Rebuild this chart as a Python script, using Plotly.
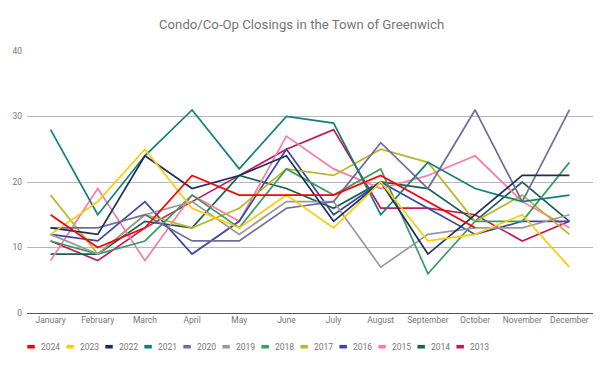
import plotly.graph_objects as go

months = ["January", "February", "March", "April", "May", "June", "July",
          "August", "September", "October", "November", "December"]

y2024 = [15, 10, 13, 21, 18, 18, 18, 21, 17, 13, None, None]
y2023 = [12, 17, 25, 16, 13, 18, 13, 20, 11, 12, 15, 7]
y2022 = [13, 12, 24, 19, 21, 24, 14, 20, 9, 15, 21, 21]
y2021 = [28, 15, 24, 31, 22, 30, 29, 15, 23, 19, 17, 18]
y2020 = [13, 13, 15, 11, 11, 16, 17, 26, 19, 31, 17, 31]
y2019 = [12, 9, 15, 17, 12, 17, 17, 7, 12, 13, 13, 15]
y2018 = [11, 9, 11, 18, 13, 22, 18, 22, 6, 14, 14, 23]
y2017 = [18, 9, 15, 13, 16, 22, 21, 25, 23, 14, 18, 12]
y2016 = [12, 11, 17, 9, 14, 25, 15, 20, 16, 12, 14, 14]
y2015 = [8, 19, 8, 18, 14, 27, 22, 19, 21, 24, 17, 13]
y2014 = [9, 9, 14, 13, 21, 19, 16, 20, 19, 14, 20, 14]
y2013 = [11, 8, 13, 17, 21, 25, 28, 16, 16, 15, 11, 14]

years = ["2024", "2023", "2022", "2021", "2020", "2019", "2018", "2017",
         "2016", "2015", "2014", "2013"]
series = [y2024, y2023, y2022, y2021, y2020, y2019, y2018, y2017,
          y2016, y2015, y2014, y2013]
colors = ["#ff0000", "#ffcb05", "#1b2e5c", "#12807a", "#6e6c9e", "#999999",
          "#3c9a60", "#b8b72c", "#3a47a6", "#fd78a6", "#17604e", "#c2185b"]

FONT = "Roboto"
L, R, T, B = 25, 22, 51, 64
W, H = 615, 377
PW, PH = W - L - R, H - T - B

fig = go.Figure()
# draw oldest first so newer years sit on top
for name, vals, col in reversed(list(zip(years, series, colors))):
    fig.add_trace(go.Scatter(x=months, y=vals, mode="lines", name=name,
                             line=dict(color=col, width=1.7),
                             showlegend=False))

shapes = []
annotations = []
# custom compact legend
for i, (name, col) in enumerate(zip(years, colors)):
    sx = 25.3 + 39.15 * i
    x0 = (sx - L) / PW
    x1 = (sx + 7.5 - L) / PW
    yc = (T + PH - 346.7) / PH
    dy = 1.8 / PH
    shapes.append(dict(type="rect", xref="paper", yref="paper",
                       x0=x0, x1=x1, y0=yc - dy, y1=yc + dy,
                       fillcolor=col, line=dict(width=0)))
    annotations.append(dict(xref="paper", yref="paper",
                            x=(sx + 12 - L) / PW, y=yc,
                            xanchor="left", yanchor="middle",
                            text=name, showarrow=False,
                            font=dict(family=FONT, size=8.5, color="#757575")))

annotations.append(dict(xref="paper", yref="paper",
                        x=(300 - L) / PW, y=(T + PH - 24.3) / PH,
                        xanchor="center", yanchor="middle",
                        text="Condo/Co-Op Closings in the Town of Greenwich",
                        showarrow=False,
                        font=dict(family=FONT, size=13.2, color="#757575")))

fig.update_layout(
    width=W, height=H,
    margin=dict(l=L, r=R, t=T, b=B),
    paper_bgcolor="white", plot_bgcolor="white",
    font=dict(family=FONT, size=9, color="#757575"),
    shapes=shapes, annotations=annotations,
    showlegend=False,
)
fig.update_xaxes(type="category", range=[-0.5, 11.5], showgrid=False,
                 showline=False, ticks="", ticklabelstandoff=0,
                 tickfont=dict(size=8.5, color="#757575"))
fig.update_yaxes(range=[0, 40], tickvals=[0, 10, 20, 30, 40],
                 showgrid=True, gridcolor="#b7b7b7", gridwidth=1,
                 zeroline=True, zerolinecolor="#555555", zerolinewidth=1,
                 showline=False, ticks="", ticklabelstandoff=4,
                 tickfont=dict(size=8.5, color="#757575"))

fig.write_html("out.html",
               config={"displayModeBar": False},
               post_script="document.body.style.margin='0';"
                           "document.body.style.overflow='hidden';")
